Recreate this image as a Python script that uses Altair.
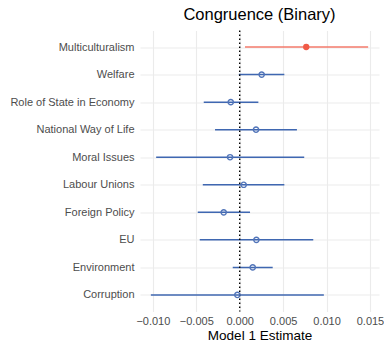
import altair as alt
import pandas as pd

categories = ["Multiculturalism", "Welfare", "Role of State in Economy", "National Way of Life",
              "Moral Issues", "Labour Unions", "Foreign Policy", "EU", "Environment", "Corruption"]
estimate = [0.00766, 0.00253, -0.00103, 0.00188, -0.00111, 0.00046, -0.00184, 0.00192, 0.00150, -0.00027]
lower = [0.00061, -0.00010, -0.00414, -0.00284, -0.00962, -0.00425, -0.00483, -0.00460, -0.00080, -0.01023]
upper = [0.01479, 0.00514, 0.00215, 0.00659, 0.00743, 0.00514, 0.00119, 0.00847, 0.00380, 0.00969]
significant = ["yes", "no", "no", "no", "no", "no", "no", "no", "no", "no"]
grid_values = [-0.010, -0.0075, -0.005, -0.0025, 0.0, 0.0025, 0.005, 0.0075, 0.010, 0.0125, 0.015]
zero = [0.0]

df = pd.DataFrame({"term": categories, "est": estimate, "lo": lower, "hi": upper, "sig": significant})

font = "Liberation Sans"
xscale = alt.Scale(domain=[-0.01148, 0.01604], nice=False, zero=False)
yscale = alt.Scale(domain=categories, type="point", padding=0.6)

xaxis = alt.Axis(
    values=grid_values,
    labelExpr="abs(datum.value*200 - round(datum.value*200)) < 0.01 ? format(datum.value, '.3f') : ''",
    title="Model 1 Estimate", titleFont=font, titleFontSize=13.5, titleFontWeight="normal",
    titleColor="black", titlePadding=2,
    labelFont=font, labelFontSize=11, labelColor="#4D4D4D", labelPadding=4,
    ticks=False, domain=False, grid=True, gridColor="#EBEBEB",
    gridWidth={"condition": {"test": "abs(datum.value*200 - round(datum.value*200)) < 0.01", "value": 1.1}, "value": 0.55},
    labelOverlap=False,
)
yaxis = alt.Axis(
    title=None, labelFont=font, labelFontSize=11, labelColor="#4D4D4D", labelPadding=6,
    ticks=False, domain=False, grid=True, gridColor="#EBEBEB", gridWidth=1.1,
)

base = alt.Chart(df)

color_line = alt.Scale(domain=["yes", "no"], range=["#F37A6B", "#3F67B1"])

bars = base.mark_rule(strokeWidth=1.5).encode(
    x=alt.X("lo:Q", scale=xscale, axis=xaxis),
    x2="hi:Q",
    y=alt.Y("term:N", scale=yscale, axis=yaxis, sort=categories),
    color=alt.Color("sig:N", scale=color_line, legend=None),
)

zline = alt.Chart(pd.DataFrame({"z": zero})).mark_rule(
    color="black", strokeDash=[1.5, 2.5], strokeWidth=1.4
).encode(x=alt.X("z:Q", scale=xscale))

pts_no = base.transform_filter("datum.sig == 'no'").mark_point(
    shape="circle", filled=False, size=28, strokeWidth=1.4, color="#5275B9", opacity=1
).encode(
    x=alt.X("est:Q", scale=xscale),
    y=alt.Y("term:N", scale=yscale, sort=categories),
)
pts_yes = base.transform_filter("datum.sig == 'yes'").mark_point(
    shape="circle", filled=True, size=40, color="#F05A47", opacity=1
).encode(
    x=alt.X("est:Q", scale=xscale),
    y=alt.Y("term:N", scale=yscale, sort=categories),
)

chart = alt.layer(bars, zline, pts_no, pts_yes).properties(
    width=239, height=281,
    title=alt.TitleParams("Congruence (Binary)", font=font, fontSize=16.5, fontWeight="normal",
                          color="black", anchor="middle", offset=6),
    autosize=alt.AutoSizeParams(type="none"),
    padding={"left": 140, "top": 30.5, "right": 5, "bottom": 31.5},
).configure_view(stroke=None)

chart.save("out.html", embed_options={"renderer": "svg", "actions": False})
